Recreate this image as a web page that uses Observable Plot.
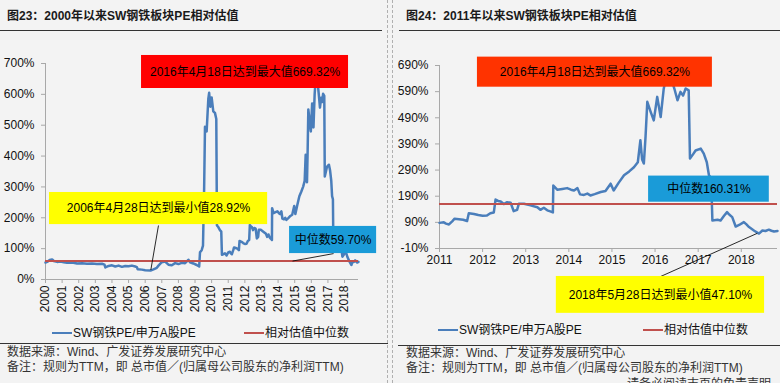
<!DOCTYPE html>
<html><head><meta charset="utf-8">
<script src="https://cdn.jsdelivr.net/npm/d3@7"></script>
<script src="https://cdn.jsdelivr.net/npm/@observablehq/plot@0.6"></script>
<style>
body{margin:0;background:#f3f3f3;}
#wrap{position:relative;width:780px;height:383px;overflow:hidden;background:#f3f3f3;font-family:"Liberation Sans",Arial,"Noto Sans CJK SC",sans-serif;color:#111;}
.abs{position:absolute;white-space:nowrap;}
.title{font-weight:bold;font-size:12px;line-height:14px;color:#1a1a1a;}
.rule{height:0;border-top:1.6px solid #333;}
.src{font-size:12px;line-height:14px;color:#333;}
.leg{font-size:12px;line-height:14px;color:#111;}
.swatch{display:inline-block;width:20px;height:0;border-top:2.2px solid;vertical-align:middle;margin-right:1px;position:relative;top:-1px;}
.sep{width:0;top:0;height:383px;border-left:1px dashed #b0b0b0;}
.plot{position:absolute;top:40px;}
</style></head>
<body><div id="wrap"></div>
<script>
// ---------------- data ----------------
const years = [2000.00,2000.10,2000.25,2000.40,2000.50,2000.70,2000.90,2001.10,2001.30,2001.60,2001.90,2002.20,2002.50,2002.80,2003.10,2003.40,2003.55,2003.60,2003.80,2004.00,2004.20,2004.40,2004.60,2004.80,2005.00,2005.20,2005.40,2005.50,2005.55,2005.80,2006.00,2006.32,2006.50,2006.70,2006.80,2007.00,2007.20,2007.40,2007.60,2007.80,2008.00,2008.20,2008.40,2008.60,2008.70,2008.90,2009.10,2009.25,2009.30,2009.40,2009.48,2009.55,2009.60,2009.70,2009.80,2009.85,2009.92,2010.00,2010.10,2010.20,2010.28,2010.32,2010.40,2010.50,2010.58,2010.62,2010.80,2010.90,
2011.00,2011.10,2011.15,2011.22,2011.30,2011.35,2011.45,2011.55,2011.64,2011.68,2011.80,2011.90,2012.00,2012.10,2012.18,2012.26,2012.30,2012.36,2012.42,2012.49,2012.57,2012.65,2012.72,2012.80,2012.84,2012.96,2013.11,2013.27,2013.34,2013.42,2013.50,2013.57,2013.63,2013.64,2013.73,2013.85,2013.96,2014.05,2014.12,2014.20,2014.26,2014.35,2014.43,2014.50,2014.60,2014.74,2014.85,2014.97,2015.04,2015.15,2015.28,2015.40,2015.51,2015.60,2015.66,2015.70,2015.74,2015.78,2015.82,2015.90,2015.97,2016.05,2016.13,2016.20,2016.25,2016.29,2016.36,2016.45,2016.52,2016.59,2016.65,2016.71,2016.78,2016.81,2016.88,2016.94,2017.06,2017.13,2017.20,2017.25,2017.30,2017.33,2017.45,2017.52,2017.60,2017.67,2017.72,2017.79,2017.87,2017.95,2018.06,2018.12,2018.18,2018.30,2018.41,2018.49,2018.56,2018.64,2018.70,2018.76,2018.84];
const ratios = [55,57,63,65,60,57,58,56,54,55,52,53,51,52,50,51,48,39,44,46,42,45,41,44,43,45,42,40,33,32,30,28.92,33,38,45,56,58,48,46,53,50,54,53,64,56,52,47,42,88,95,110,300,495,480,585,605,560,590,545,540,520,175,170,160,155,80,85,78,
88,90,85,82,95,104,102,100,95,125,122,118,115,116,125,128,177,172,170,160,167,165,133,138,161,161,155,148,138,146,136,132,128,231,215,218,221,215,212,221,197,195,200,193,198,206,210,238,212,240,270,285,301,320,404,330,315,420,551,512,480,570,493,600,640,669.32,650,600,557,589,575,602,595,334,350,365,372,353,320,270,260,97,100,97,115,129,120,110,74,80,91,82,72,58,47.10,59,57,62,58,55,57];

const medianAll = 59.70;     // 2000年以来中位数
const median2011 = 160.31;   // 2011年以来中位数

const leftXTicks = [2000,2001,2002,2003,2004,2005,2006,2007,2008,2009,2010,2011,2012,2013,2014,2015,2016,2017,2018];
const leftYTicks = [0,100,200,300,400,500,600,700];
const rightXTicks = [2011,2012,2013,2014,2015,2016,2017,2018];
const rightYTicks = [-10,90,190,290,390,490,590,690];

const titles = ["图23：2000年以来SW钢铁板块PE相对估值","图24：2011年以来SW钢铁板块PE相对估值"];
const legendNames = ["SW钢铁PE/申万A股PE","相对估值中位数"];
const sourceLines = ["数据来源：Wind、广发证券发展研究中心","备注：规则为TTM，即 总市值／(归属母公司股东的净利润TTM)"];
const noteMax = "2016年4月18日达到最大值669.32%";
const noteMinAll = "2006年4月28日达到最小值28.92%";
const noteMin2011 = "2018年5月28日达到最小值47.10%";
const noteMedAll = "中位数59.70%";
const noteMed2011 = "中位数160.31%";

// ---------------- build ----------------
const series = years.map((y,i)=>({year:y, value:ratios[i]}));
const series2011 = series.filter(d=>d.year>=2011);

const BLUE="#4a7ebb", RED="#c0504d", AX="#a8a8a8";
const FONT='"Liberation Sans", Arial, "Noto Sans CJK SC", sans-serif';
const wrap = document.getElementById("wrap");
function el(cls, css, html){const d=document.createElement("div");d.className="abs "+cls;Object.assign(d.style,css);if(html!=null)d.innerHTML=html;wrap.appendChild(d);return d;}

// separators
el("sep",{left:"387px"}); el("sep",{left:"392px"});
// titles & rules
el("title",{left:"7px",top:"9px"},titles[0]);
el("title",{left:"406px",top:"9px"},titles[1]);
el("rule",{left:"0px",top:"30px",width:"382px"});
el("rule",{left:"399px",top:"30px",width:"381px"});

function box(b){ // b: annotation in data coordinates
  return [
    Plot.rect([b],{x1:"x1",x2:"x2",y1:"y1",y2:"y2",fill:b.fill}),
    Plot.text([b],{x:d=>(d.x1+d.x2)/2,y:d=>(d.y1+d.y2)/2,text:"text",fontSize:12,fill:"#000",fontFamily:FONT})
  ];
}

const left = Plot.plot({
  width:388,height:290,marginTop:23,marginBottom:51,marginLeft:45,marginRight:30,
  x:{domain:[2000,2018.84]}, y:{domain:[0,700]},
  style:{background:"transparent",fontFamily:FONT,fontSize:"12px",color:"#111",overflow:"visible"},
  marks:[
    Plot.axisY({ticks:leftYTicks,tickFormat:d=>d+"%",tickSize:4,tickPadding:7,stroke:AX,fill:"#111",fontSize:12,label:null}),
    Plot.axisX({ticks:leftXTicks,tickFormat:d=>String(d),tickRotate:-90,tickSize:4,tickPadding:2,stroke:AX,fill:"#111",fontSize:12,label:null}),
    Plot.ruleX([2000],{stroke:AX}),
    Plot.ruleY([0],{stroke:AX}),
    Plot.line(series,{x:"year",y:"value",stroke:BLUE,strokeWidth:2.5}),
    Plot.ruleY([medianAll],{stroke:RED,strokeWidth:2}),
    Plot.link([{x1:2006.8,y1:175,x2:2006.34,y2:31},{x1:2017.34,y1:84,x2:2014.87,y2:medianAll}],{x1:"x1",y1:"y1",x2:"x2",y2:"y2",stroke:"#111",strokeWidth:0.9}),
    ...box({x1:2005.78,x2:2018.24,y1:619,y2:726,fill:"#ff0000",text:noteMax}),
    ...box({x1:2000.24,x2:2013.37,y1:178,y2:282,fill:"#ffff00",text:noteMinAll}),
    ...box({x1:2014.69,x2:2019.93,y1:84,y2:172,fill:"#1a9bd8",text:noteMedAll})
  ]
});
left.classList.add("plot"); left.style.left="0px"; wrap.appendChild(left);

const right = Plot.plot({
  width:390,height:290,marginTop:25,marginBottom:82,marginLeft:49,marginRight:3,
  x:{domain:[2011,2018.84]}, y:{domain:[-10,690]},
  style:{background:"transparent",fontFamily:FONT,fontSize:"12px",color:"#111",overflow:"visible"},
  marks:[
    Plot.axisY({ticks:rightYTicks,tickFormat:d=>d+"%",tickSize:4,tickPadding:7,stroke:AX,fill:"#111",fontSize:12,label:null}),
    Plot.axisX({ticks:rightXTicks,tickFormat:d=>String(d),tickSize:4,tickPadding:3,stroke:AX,fill:"#111",fontSize:12,label:null}),
    Plot.ruleX([2011],{stroke:AX}),
    Plot.ruleY([-10],{stroke:AX}),
    Plot.line(series2011,{x:"year",y:"value",stroke:BLUE,strokeWidth:2.5}),
    Plot.ruleY([median2011],{stroke:RED,strokeWidth:2}),
    Plot.link([{x1:2016.13,y1:-117,x2:2018.37,y2:48}],{x1:"x1",y1:"y1",x2:"x2",y2:"y2",stroke:"#111",strokeWidth:0.9}),
    ...box({x1:2011.88,x2:2017.33,y1:607,y2:722,fill:"#ff3300",text:noteMax}),
    ...box({x1:2015.85,x2:2018.65,y1:167,y2:267,fill:"#1a9bd8",text:noteMed2011}),
    ...box({x1:2013.71,x2:2018.54,y1:-258,y2:-117,fill:"#ffff00",text:noteMin2011})
  ]
});
right.classList.add("plot"); right.style.left="390px"; wrap.appendChild(right);

// legends
function legend(x,y,color,name){el("leg",{left:x+"px",top:(y-7)+"px"},`<span class="swatch" style="border-color:${color}"></span>${name}`);}
legend(52,333,BLUE,legendNames[0]); legend(244,333,RED,legendNames[1]);
legend(438,330,BLUE,legendNames[0]); legend(643,330,RED,legendNames[1]);

// bottom rules & sources
el("rule",{left:"0px",top:"343px",width:"388px"});
el("rule",{left:"398px",top:"345px",width:"382px"});
el("src",{left:"7px",top:"345px"},sourceLines[0]);
el("src",{left:"7px",top:"360px"},sourceLines[1]);
el("src",{left:"406px",top:"346px"},sourceLines[0]);
el("src",{left:"406px",top:"361px"},sourceLines[1]);
el("src",{left:"627px",top:"377px"},"请务必阅读末页的免责声明");
</script></body></html>
